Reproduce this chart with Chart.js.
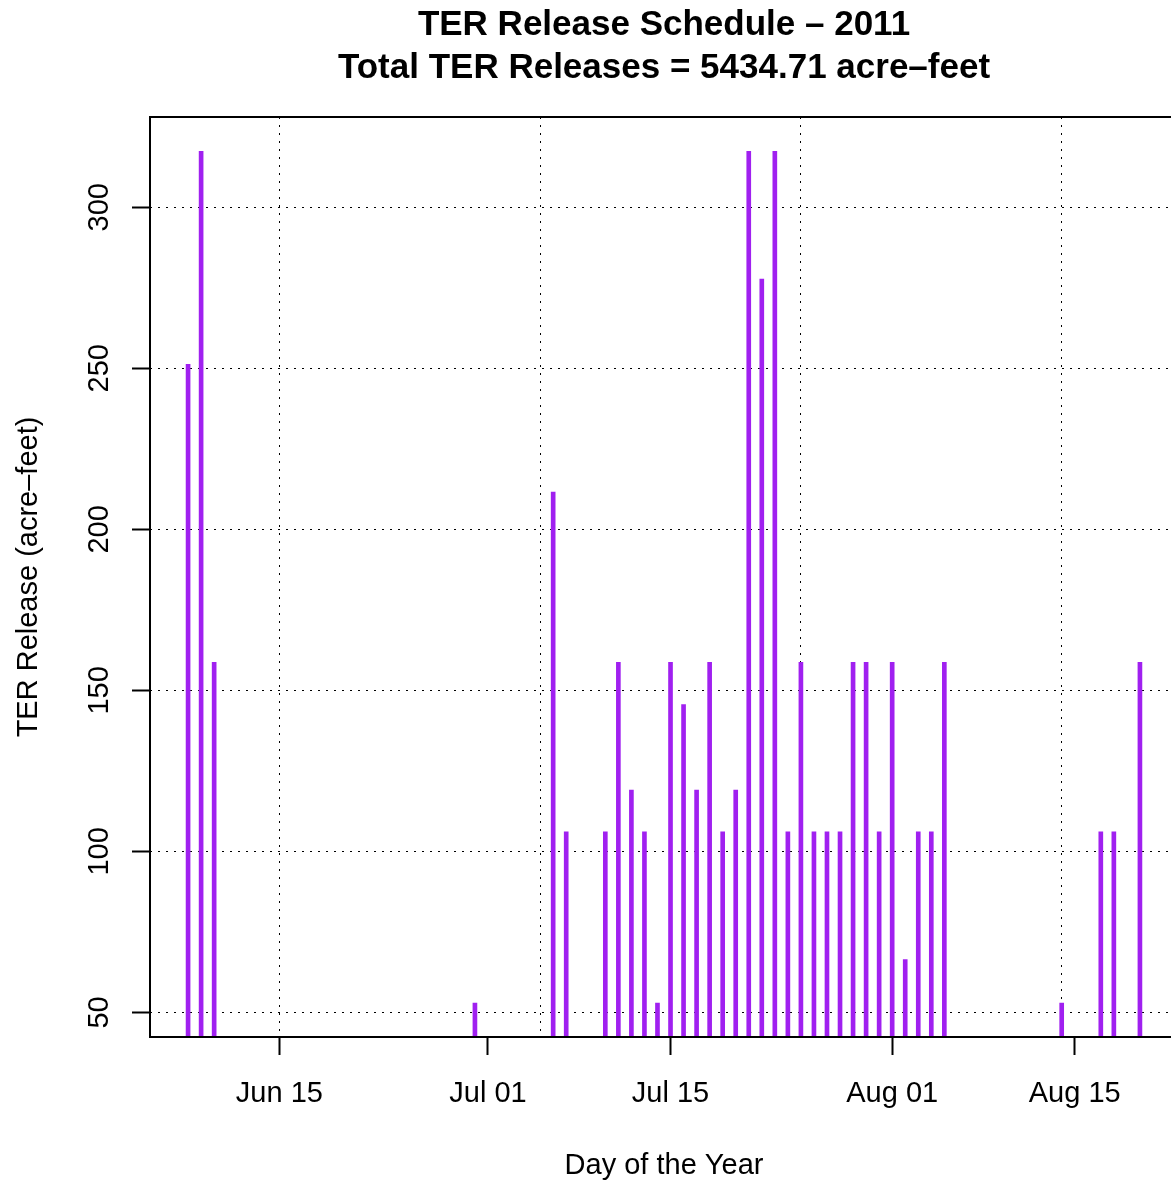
<!DOCTYPE html>
<html>
<head>
<meta charset="utf-8">
<script src="https://cdn.jsdelivr.net/npm/chart.js@4/dist/chart.umd.min.js"></script>
<style>
  html, body { margin: 0; padding: 0; background: #fff; overflow: hidden; }
  #wrap { width: 1200px; height: 1181px; }
</style>
</head>
<body>
<div id="wrap"><canvas id="terChart" width="1200" height="1181"></canvas></div>
<script>
// release days and volumes (acre-feet)
const releaseDates = ['2011-06-08', '2011-06-09', '2011-06-10', '2011-06-30',
    '2011-07-06', '2011-07-07', '2011-07-10', '2011-07-11', '2011-07-12', '2011-07-13',
    '2011-07-14', '2011-07-15', '2011-07-16', '2011-07-17', '2011-07-18', '2011-07-19',
    '2011-07-20', '2011-07-21', '2011-07-22', '2011-07-23', '2011-07-24', '2011-07-25',
    '2011-07-26', '2011-07-27', '2011-07-28', '2011-07-29', '2011-07-30', '2011-07-31',
    '2011-08-01', '2011-08-02', '2011-08-03', '2011-08-04', '2011-08-05', '2011-08-14',
    '2011-08-17', '2011-08-18', '2011-08-20'];
const releaseValues = [251.2, 317.4, 158.7, 52.9,
    211.6, 106.1, 106.1, 158.7, 119.0, 106.1,
    52.9, 158.7, 145.6, 119.0, 158.7, 106.1,
    119.0, 317.4, 277.7, 317.4, 106.1, 158.7,
    106.1, 106.1, 106.1, 158.7, 158.7, 106.1,
    158.7, 66.4, 106.1, 106.1, 158.7, 52.9,
    106.1, 106.1, 158.7];

const tickDates = ['2011-06-15', '2011-07-01', '2011-07-15', '2011-08-01', '2011-08-15'];
const tickLabels = ['Jun 15', 'Jul 01', 'Jul 15', 'Aug 01', 'Aug 15'];
const gridDates = ['2011-06-15', '2011-07-05', '2011-07-25', '2011-08-14'];
const yTicks = [50, 100, 150, 200, 250, 300];

const titleLines = ['TER Release Schedule \u2013 2011', 'Total TER Releases = 5434.71 acre\u2013feet'];
const xTitle = 'Day of the Year';
const yTitle = 'TER Release (acre\u2013feet)';

// days counted from Jun 15
const origin = Date.UTC(2011, 5, 15);
function toDay(s) {
    let p = s.split('-');
    return (Date.UTC(+p[0], +p[1] - 1, +p[2]) - origin) / 86400000;
}

const points = releaseDates.map((d, i) => ({ x: toDay(d), y: releaseValues[i] }));
const xMin = -9.92, xMax = 68.92;
const yMin = 42.36, yMax = 328.03;
const FONT = '"Liberation Sans", Arial, Helvetica, sans-serif';

// titles, y tick labels and plot frame
const rDecor = {
    id: 'rDecor',
    afterDatasetsDraw(chart) {
        let ctx = chart.ctx;
        let a = chart.chartArea;
        let cx = (a.left + a.right) / 2;
        ctx.save();
        ctx.strokeStyle = '#000';
        ctx.lineWidth = 2;
        ctx.strokeRect(a.left, a.top, a.right - a.left, a.bottom - a.top);

        ctx.fillStyle = '#000';
        ctx.textAlign = 'center';
        ctx.textBaseline = 'alphabetic';
        ctx.font = 'bold 35px ' + FONT;
        ctx.fillText(titleLines[0], cx, 35);
        ctx.fillText(titleLines[1], cx, 78);

        ctx.font = '29px ' + FONT;
        ctx.fillText(xTitle, cx, 1174);

        let ys = chart.scales.y;
        yTicks.forEach(function (v) {
            ctx.save();
            ctx.translate(108, ys.getPixelForValue(v));
            ctx.rotate(-Math.PI / 2);
            ctx.fillText(String(v), 0, 0);
            ctx.restore();
        });

        ctx.save();
        ctx.translate(37, (a.top + a.bottom) / 2);
        ctx.rotate(-Math.PI / 2);
        ctx.fillText(yTitle, 0, 0);
        ctx.restore();
        ctx.restore();
    }
};

let ctx = document.getElementById('terChart').getContext('2d');
let terChart = new Chart(ctx, {
    type: 'bar',
    data: {
        datasets: [{
            data: points,
            backgroundColor: '#A020F0',
            borderWidth: 0,
            barThickness: 4,
            grouped: false
        }]
    },
    options: {
        responsive: false,
        animation: false,
        events: [],
        layout: { padding: { left: 0, right: 22, top: 117, bottom: 0 } },
        plugins: { legend: { display: false }, tooltip: { enabled: false } },
        scales: {
            x: {
                type: 'linear',
                position: 'bottom',
                offset: false,
                min: xMin,
                max: xMax,
                afterBuildTicks: function (scale) {
                    scale.ticks = tickDates.map(d => ({ value: toDay(d) }));
                },
                afterFit: function (scale) { scale.height = 144; },
                ticks: {
                    autoSkip: false,
                    maxRotation: 0,
                    padding: 22,
                    color: '#000',
                    font: { family: FONT, size: 29 },
                    callback: function (value) {
                        let i = tickDates.map(toDay).indexOf(value);
                        return i >= 0 ? tickLabels[i] : '';
                    }
                },
                grid: {
                    offset: false,
                    drawOnChartArea: false,
                    drawTicks: true,
                    tickLength: 18,
                    tickWidth: 2,
                    tickColor: '#000',
                    color: '#000'
                },
                border: { display: false }
            },
            xg: {
                type: 'linear',
                position: 'bottom',
                offset: false,
                min: xMin,
                max: xMax,
                afterBuildTicks: function (scale) {
                    scale.ticks = gridDates.map(d => ({ value: toDay(d) }));
                },
                afterFit: function (scale) { scale.height = 0; },
                ticks: { display: false },
                grid: { offset: false, drawTicks: false, color: '#000', lineWidth: 1 },
                border: { display: false, dash: [2, 6] }
            },
            y: {
                type: 'linear',
                min: yMin,
                max: yMax,
                afterBuildTicks: function (scale) {
                    scale.ticks = yTicks.map(v => ({ value: v }));
                },
                afterFit: function (scale) { scale.width = 150; },
                ticks: { display: false },
                grid: {
                    drawTicks: true,
                    tickLength: 18,
                    tickWidth: 2,
                    tickColor: '#000',
                    tickBorderDash: [],
                    color: '#000',
                    lineWidth: 1
                },
                border: { display: false, dash: [2, 6] }
            }
        }
    },
    plugins: [rDecor]
});
</script>
</body>
</html>
